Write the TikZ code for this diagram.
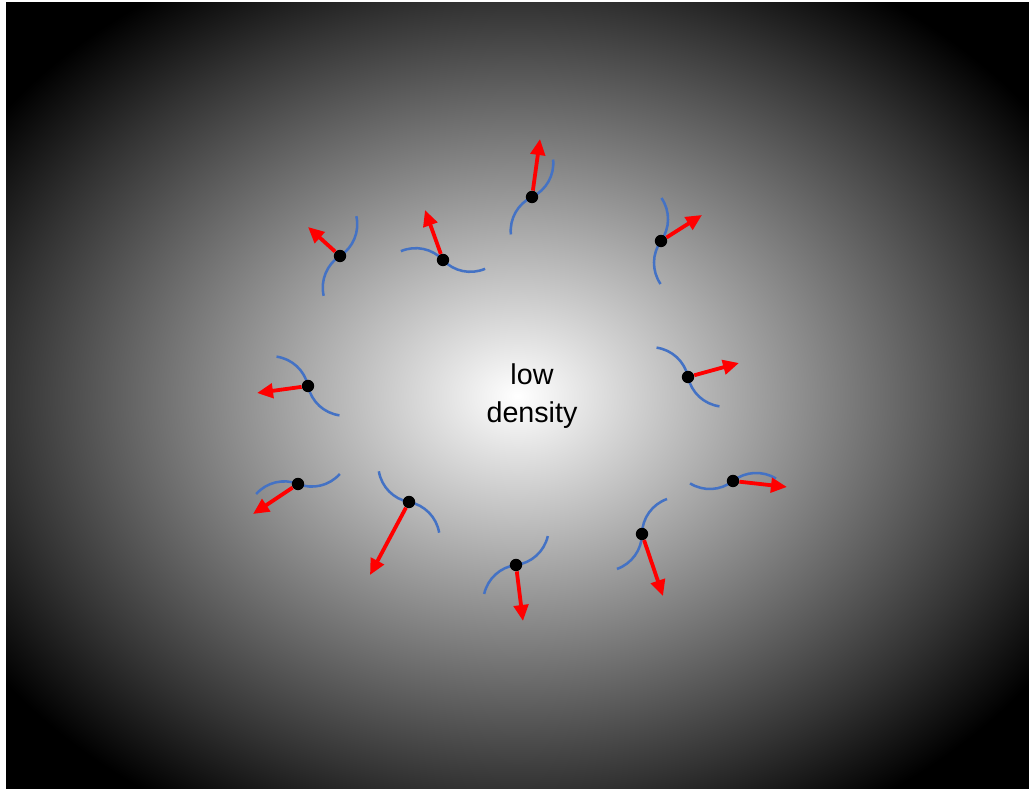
\documentclass[tikz,border=0pt]{standalone}
\usepackage{fontspec}
\setmainfont{Liberation Sans}
\usetikzlibrary{arrows.meta}
\definecolor{WaveBlue}{HTML}{4472C4}
\definecolor{VelRed}{HTML}{FF0000}
\pgfdeclareradialshading{glow}{\pgfpoint{0bp}{0bp}}{color(0bp)=(white);
  color(25bp)=(black!80); color(31bp)=(black); color(50bp)=(black)}

\begin{document}
\begin{tikzpicture}[x=0.25mm,y=0.25mm,
    wave/.style={WaveBlue,line width=1.8pt},
    vel/.style={VelRed,line width=2.7pt,-{Triangle[length=4mm,width=3.6mm]}},
    dot/.style={circle,fill=black,inner sep=0pt,minimum size=3.1mm}]
  \useasboundingbox (0,0) rectangle (1029,789);
  \shade[shading=glow] (6,0) rectangle (1029,786);
  \node[font=\fontsize{20.4}{27}\selectfont,align=center] (label) at (532,393) {low\\density};
  % particles: position / tangent angle / handedness / tip of velocity
  \foreach \x/\y/\a/\s/\tx/\ty [count=\i] in {
      340/533/32.7/1/308/562,
      443/529/133.2/1/425/579,
      532/592/25.6/1/540/650,
      661/548/54.4/1/702/574,
      688/412/102/1/739/426,
      733/308/38.2/-1/787/302,
      642/255/89.4/-1/663/193,
      516/224/7.3/1/523/168,
      409/287/169.5/-1/370/214,
      298/305/-21.5/1/253/275,
      308/403/102/1/257/396}
  {
    \coordinate (tip\i) at (\tx,\ty);
    \draw[wave,shift={(\x,\y)},rotate=\a,yscale=\s]
      (0,0) arc[start angle=-90,end angle=-20,radius=37.5]
      (0,0) arc[start angle=90,end angle=160,radius=37.5];
    \node[dot] (p\i) at (\x,\y) {};
    \draw[vel] (p\i) -- (tip\i);
  }
\end{tikzpicture}
\end{document}
